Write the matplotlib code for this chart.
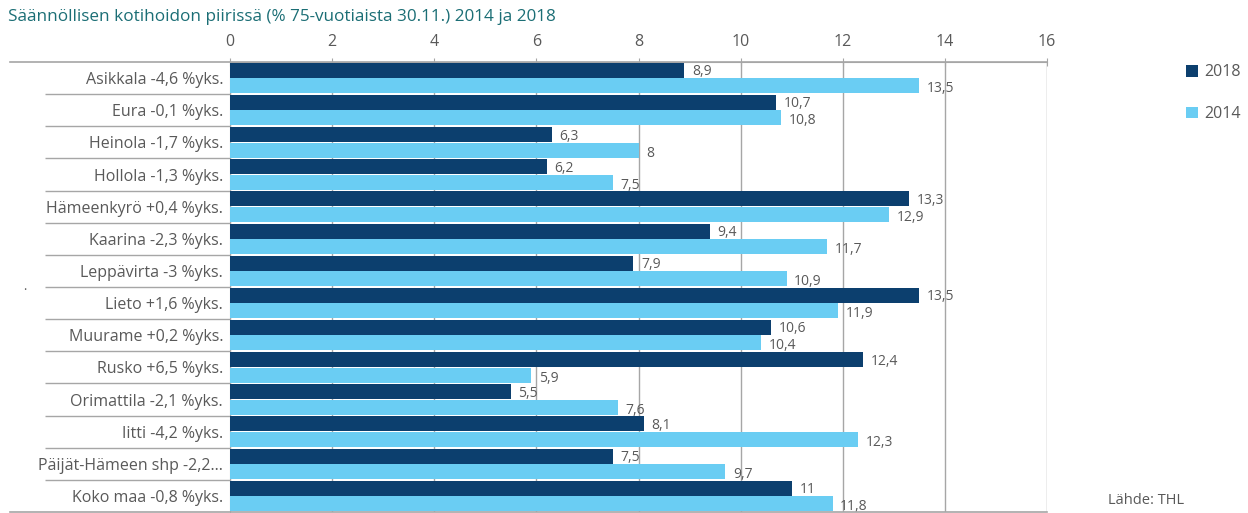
import matplotlib
matplotlib.use("Agg")
import matplotlib.pyplot as plt
from matplotlib.lines import Line2D
import numpy as np

categories = ["Asikkala -4,6 %yks.", "Eura -0,1 %yks.", "Heinola -1,7 %yks.", "Hollola -1,3 %yks.",
              "Hämeenkyrö +0,4 %yks.", "Kaarina -2,3 %yks.", "Leppävirta -3 %yks.", "Lieto +1,6 %yks.",
              "Muurame +0,2 %yks.", "Rusko +6,5 %yks.", "Orimattila -2,1 %yks.", "Iitti -4,2 %yks.",
              "Päijät-Hämeen shp -2,2...", "Koko maa -0,8 %yks."]
v2018 = [8.9, 10.7, 6.3, 6.2, 13.3, 9.4, 7.9, 13.5, 10.6, 12.4, 5.5, 8.1, 7.5, 11]
v2014 = [13.5, 10.8, 8, 7.5, 12.9, 11.7, 10.9, 11.9, 10.4, 5.9, 7.6, 12.3, 9.7, 11.8]
xticks = [0, 2, 4, 6, 8, 10, 12, 14, 16]

plt.rcParams['font.family'] = ['Open Sans', 'DejaVu Sans']
dark = "#0C3F6E"
light = "#6ACDF3"
gray = "#595959"
linec = "#A6A6A6"

fig = plt.figure(figsize=(12.48, 5.13), dpi=100)
ax = fig.add_axes([230/1248, 1/513, 817/1248, 450/513])

y = np.arange(len(categories))
h = 0.47
ax.barh(y - h/2 - 0.005, v2018, height=h, color=dark, label="2018", zorder=3)
ax.barh(y + h/2 + 0.005, v2014, height=h, color=light, label="2014", zorder=3)

def fmt(v):
    if float(v).is_integer():
        return str(int(v))
    return f"{v:.1f}".replace(".", ",")

for yi, v in zip(y - h/2, v2018):
    ax.text(v + 0.15, yi + 0.04, fmt(v), va="center", ha="left", fontsize=10, color=gray, zorder=4)
for yi, v in zip(y + h/2, v2014):
    ax.text(v + 0.15, yi + 0.1, fmt(v), va="center", ha="left", fontsize=10, color=gray, zorder=4)

ax.set_xlim(0, 16)
ax.set_ylim(len(categories) - 0.5, -0.5)
ax.xaxis.tick_top()
ax.set_xticks(xticks)
ax.set_xticklabels([str(t) for t in xticks], fontsize=11.5, color=gray)
ax.tick_params(axis="x", which="major", direction="inout", length=6, color=linec, pad=6)
ax.grid(axis="x", color=linec, linewidth=1, zorder=0)

ax.set_yticks(y)
ax.set_yticklabels(categories, fontsize=11.5, color=gray)
ax.tick_params(axis="y", which="major", length=0, pad=5)
ax.set_yticks(np.arange(0.5, len(categories) - 1, 1), minor=True)
ax.tick_params(axis="y", which="minor", length=185*0.72, color=linec, width=1)

for s in ["right", "bottom"]:
    ax.spines[s].set_visible(False)
ax.spines["top"].set_color(linec)
ax.spines["left"].set_color(linec)

for yy in (0.0, 1.0):
    fig.add_artist(Line2D([10/1248, 1047/1248], [1/513 + yy*450/513]*2, color=linec, lw=1.2,
                          transform=fig.transFigure))

fig.text(8/1248, 1 - 17/513, "Säännöllisen kotihoidon piirissä (% 75-vuotiaista 30.11.) 2014 ja 2018",
         fontsize=12.3, color="#1B6E75", va="center", ha="left")
fig.text(25/1248, 1 - 287/513, ".", fontsize=9, color=gray, ha="center", va="center")

leg = fig.legend(loc="upper left", bbox_to_anchor=(1172/1248, 1 - 50/513), frameon=False,
                 fontsize=11.5, labelcolor=gray, handlelength=0.75, handleheight=0.75,
                 handletextpad=0.35, labelspacing=1.6)
fig.text(1108/1248, 1 - 500/513, "Lähde: THL", fontsize=10.5, color=gray, va="center", ha="left")

fig.savefig("out.png", dpi=100)
